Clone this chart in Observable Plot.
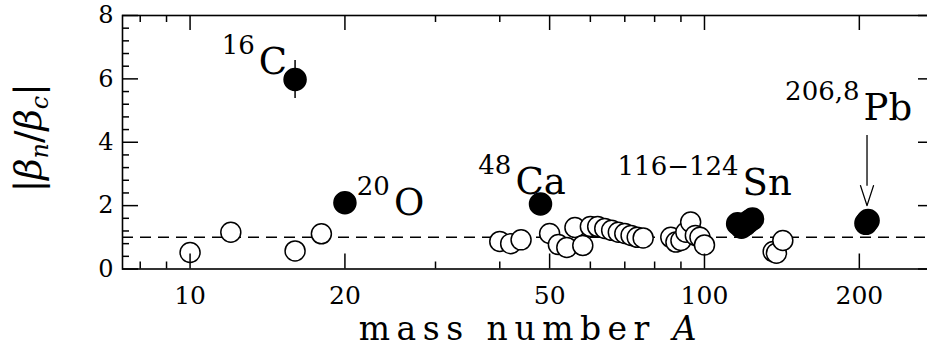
<!DOCTYPE html>
<html>
<head>
<meta charset="utf-8">
<script src="https://cdn.jsdelivr.net/npm/d3@7"></script>
<script src="https://cdn.jsdelivr.net/npm/@observablehq/plot@0.6"></script>
<style>
  html, body { margin: 0; padding: 0; background: #fff; }
  #chart svg { display: block; }
</style>
</head>
<body>
<div id="chart"></div>
<script>
// ---- data ----
const openA = [10, 12, 16, 18, 40, 42, 44, 50, 52, 54, 56, 58, 60, 62, 64, 66, 68, 70, 72, 74, 76, 86, 88, 90, 92, 94, 96, 98, 100, 136, 138, 142];
const openV = [0.52, 1.16, 0.57, 1.11, 0.87, 0.8, 0.92, 1.12, 0.77, 0.68, 1.31, 0.74, 1.34, 1.34, 1.28, 1.22, 1.16, 1.12, 1.06, 1.0, 0.98, 1.0, 0.85, 0.9, 1.16, 1.48, 1.06, 1.0, 0.76, 0.55, 0.5, 0.9];
const filledA = [16, 20, 48, 116, 118, 120, 122, 124, 206, 208];
const filledV = [5.98, 2.09, 2.05, 1.43, 1.32, 1.4, 1.5, 1.58, 1.44, 1.53];
const errA = [16];
const errLo = [5.38];
const errHi = [6.58];
const refLine = [1];
const labelEl = ["C", "O", "Ca", "Sn", "Pb"];
const labelMass = ["16", "20", "48", "116\u2212124", "206,8"];
const labelA = [13.6, 24.9, 42.9, 118.6, 203.8];
const labelV = [6.14, 1.69, 2.38, 2.32, 4.69];
const arrowA = [207];
const arrowFrom = [4.21];
const arrowTo = [2.0];
const xMajor = [10, 20, 50, 100, 200];
const xMinor = [8, 9, 30, 40, 60, 70, 80, 90];
const yMajor = [0, 2, 4, 6, 8];
const yMinor = [0.4, 0.8, 1.2, 1.6, 2.4, 2.8, 3.2, 3.6, 4.4, 4.8, 5.2, 5.6, 6.4, 6.8, 7.2, 7.6];

// ---- layout ----
const W = 927, H = 347;
const mL = 122, mR = -7, mT = 15, mB = 78.5;
const frameW = W - mL - mR, frameH = H - mT - mB;
const xDom = [7.39, 280], yDom = [0, 8];
const majorLen = 15, minorLen = 7, yMajorLen = 16;

// tick tables: pixel tick lengths converted to data extents of the scales
const yExt = px => (yDom[1] - yDom[0]) * px / frameH;
const xFac = px => Math.pow(xDom[1] / xDom[0], px / frameW);
const xTicks = xMajor.map(v => ({v, len: majorLen})).concat(xMinor.map(v => ({v, len: minorLen})));
const yTicks = yMajor.map(v => ({v, len: yMajorLen})).concat(yMinor.map(v => ({v, len: minorLen})));
const xTickBottom = xTicks.map(d => ({A: d.v, lo: yDom[0], hi: yDom[0] + yExt(d.len)}));
const xTickTop = xTicks.map(d => ({A: d.v, lo: yDom[1] - yExt(d.len), hi: yDom[1]}));
const yTickLeft = yTicks.map(d => ({v: d.v, lo: xDom[0], hi: xDom[0] * xFac(d.len)}));
const yTickRight = yTicks.map(d => ({v: d.v, lo: xDom[1] / xFac(d.len), hi: xDom[1]}));

// ---- tables ----
const open = openA.map((A, i) => ({A, v: openV[i]}));
const filled = filledA.map((A, i) => ({A, v: filledV[i]}));
const err = errA.map((A, i) => ({A, lo: errLo[i], hi: errHi[i]}));
const labels = labelEl.map((el, i) => ({el, mass: labelMass[i], A: labelA[i], v: labelV[i]}));
const arrow = arrowA.map((A, i) => ({A, from: arrowFrom[i], to: arrowTo[i]}));

const font = "'DejaVu Serif', serif";

const plot = Plot.plot({
  width: W,
  height: H,
  marginLeft: mL,
  marginRight: mR,
  marginTop: mT,
  marginBottom: mB,
  x: {type: "log", domain: xDom, axis: null},
  y: {domain: yDom, axis: null},
  style: {fontFamily: font, color: "black", background: "white"},
  marks: [
    Plot.ruleY(refLine, {y: d => d, stroke: "black", strokeWidth: 1.5, strokeDasharray: "11,7"}),
    Plot.ruleX(err, {x: "A", y1: "lo", y2: "hi", stroke: "black", strokeWidth: 1.5}),
    Plot.dot(open, {x: "A", y: "v", r: 10, fill: "white", stroke: "black", strokeWidth: 1.5}),
    Plot.dot(filled, {x: "A", y: "v", r: 11, fill: "black", stroke: "black"}),
    Plot.ruleX(arrow, {x: "A", y1: "from", y2: "to", stroke: "black", strokeWidth: 1.3}),
    Plot.vector(arrow, {x: "A", y: "to", length: 20, r: 6.5, rotate: 180, anchor: "end", shape: "spike", fill: "white", stroke: "black", strokeWidth: 1.3}),
    // ticks (inward, mirrored on all sides)
    Plot.ruleX(xTickBottom, {x: "A", y1: "lo", y2: "hi", stroke: "black", strokeWidth: 1.5}),
    Plot.ruleX(xTickTop, {x: "A", y1: "lo", y2: "hi", stroke: "black", strokeWidth: 1.5}),
    Plot.ruleY(yTickLeft, {y: "v", x1: "lo", x2: "hi", stroke: "black", strokeWidth: 1.5}),
    Plot.ruleY(yTickRight, {y: "v", x1: "lo", x2: "hi", stroke: "black", strokeWidth: 1.5}),
    Plot.frame({stroke: "black", strokeWidth: 1.6}),
    // tick labels
    Plot.text(xMajor, {x: d => d, text: d => String(d), frameAnchor: "bottom", lineAnchor: "bottom", dy: 35, fontSize: 25}),
    Plot.text(yMajor, {y: d => d, text: d => String(d), frameAnchor: "left", textAnchor: "end", dx: -9, fontSize: 24}),
    // isotope labels
    Plot.text(labels, {x: "A", y: "v", text: "el", textAnchor: "start", lineAnchor: "bottom", fontSize: 37}),
    Plot.text(labels, {x: "A", y: "v", text: "mass", textAnchor: "end", lineAnchor: "bottom", dx: -4, dy: -20, fontSize: 26})
  ]
});

document.getElementById("chart").appendChild(plot);

const svg = d3.select(plot);
const sx = plot.scale("x"), sy = plot.scale("y");

// axis titles
const xr = sx.range;
const xl = svg.append("text")
  .attr("x", (xr[0] + xr[1]) / 2 + 3)
  .attr("y", 340)
  .attr("text-anchor", "middle")
  .attr("font-family", font)
  .attr("font-size", 33)
  .attr("letter-spacing", 6.5)
  .attr("fill", "black");
xl.append("tspan").text("mass number ");
xl.append("tspan").attr("font-style", "italic").text("A");

const yr = sy.range;
const yl = svg.append("text")
  .attr("transform", `translate(41,${(yr[0] + yr[1]) / 2 - 4}) rotate(-90)`)
  .attr("text-anchor", "middle")
  .attr("font-family", font)
  .attr("font-size", 37)
  .attr("fill", "black");
yl.append("tspan").text("|");
yl.append("tspan").attr("font-style", "italic").text("\u03B2");
yl.append("tspan").attr("font-size", 24).attr("font-style", "italic").attr("dy", 7).text("n");
yl.append("tspan").attr("dy", -7).text("/");
yl.append("tspan").attr("font-style", "italic").text("\u03B2");
yl.append("tspan").attr("font-size", 24).attr("font-style", "italic").attr("dy", 7).text("c");
yl.append("tspan").attr("dy", -7).text("|");
</script>
</body>
</html>
